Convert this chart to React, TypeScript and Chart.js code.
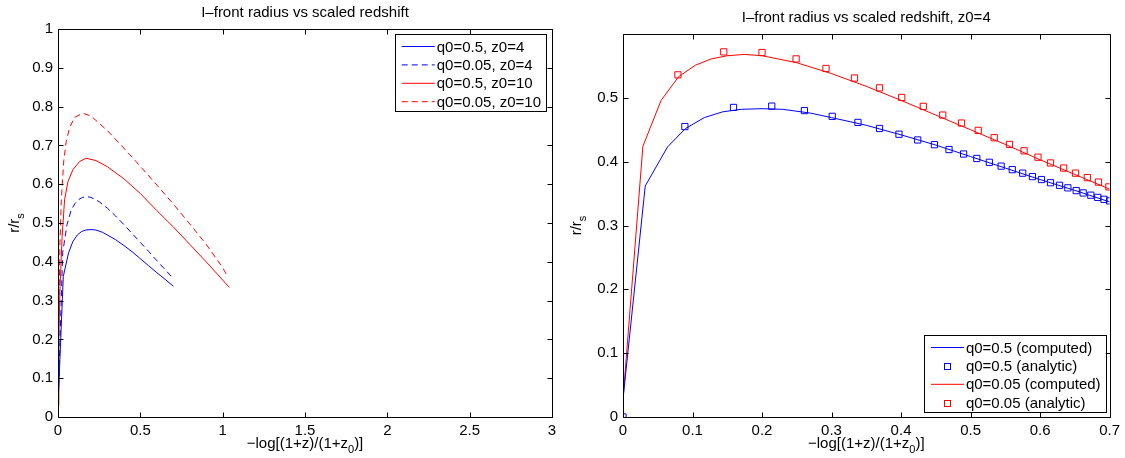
import React, { useEffect, useRef } from 'react';
import { Chart, registerables } from 'chart.js';

Chart.register(...registerables);

const FONT = '"Liberation Sans", Arial, Helvetica, sans-serif';
const FS = 15;

// ---- Right panel (z0 = 4) ----
const q05z4ComputedX = [0, 0.032, 0.064, 0.09, 0.117, 0.143, 0.17, 0.2, 0.23, 0.27, 0.3, 0.35, 0.4, 0.45, 0.5, 0.55, 0.6, 0.65, 0.7];
const q05z4ComputedY = [0.028, 0.362, 0.423, 0.452, 0.469, 0.478, 0.482, 0.483, 0.482, 0.476, 0.469, 0.457, 0.442, 0.426, 0.408, 0.39, 0.372, 0.355, 0.337];

const q005z4ComputedX = [0, 0.0286, 0.0548, 0.08, 0.104, 0.127, 0.15, 0.175, 0.2, 0.25, 0.3, 0.35, 0.4, 0.45, 0.5, 0.55, 0.6, 0.65, 0.7];
const q005z4ComputedY = [0.028, 0.424, 0.496, 0.533, 0.551, 0.561, 0.566, 0.568, 0.566, 0.555, 0.538, 0.518, 0.496, 0.473, 0.45, 0.427, 0.403, 0.38, 0.357];

const q05z4AnalyticX = [0, 0.089, 0.159, 0.214, 0.261, 0.301, 0.338, 0.369, 0.397, 0.424, 0.448, 0.469, 0.49, 0.509, 0.527, 0.544, 0.56, 0.575, 0.589, 0.602, 0.615, 0.628, 0.64, 0.652, 0.662, 0.673, 0.683, 0.692, 0.7];
const q05z4AnalyticY = [0, 0.455, 0.485, 0.487, 0.48, 0.471, 0.4615, 0.452, 0.443, 0.434, 0.4266, 0.419, 0.412, 0.405, 0.399, 0.393, 0.3875, 0.382, 0.3766, 0.372, 0.367, 0.363, 0.359, 0.3547, 0.351, 0.3475, 0.344, 0.341, 0.3386];

const q005z4AnalyticX = [0.079, 0.145, 0.2, 0.249, 0.292, 0.333, 0.369, 0.401, 0.432, 0.46, 0.487, 0.511, 0.534, 0.556, 0.577, 0.597, 0.615, 0.634, 0.651, 0.668, 0.684, 0.699];
const q005z4AnalyticY = [0.536, 0.572, 0.571, 0.561, 0.546, 0.531, 0.5156, 0.5006, 0.4866, 0.473, 0.4605, 0.449, 0.4375, 0.427, 0.417, 0.407, 0.398, 0.39, 0.382, 0.375, 0.368, 0.3605];

// ---- Left panel extra curves (z0 = 10) ----
const q05z10X = [0, 0.005, 0.012, 0.025, 0.04, 0.06, 0.09, 0.13, 0.17, 0.23, 0.3, 0.4, 0.5, 0.6, 0.7, 0.8, 0.9, 1.0, 1.04];
const q05z10Y = [0.03, 0.2, 0.33, 0.465, 0.56, 0.606, 0.637, 0.658, 0.667, 0.661, 0.645, 0.614, 0.576, 0.532, 0.49, 0.445, 0.4, 0.353, 0.334];

const q005z10X = [0, 0.005, 0.012, 0.02, 0.035, 0.05, 0.07, 0.1, 0.15, 0.2, 0.3, 0.4, 0.5, 0.6, 0.7, 0.8, 0.9, 1.0, 1.032];
const q005z10Y = [0.03, 0.25, 0.45, 0.56, 0.66, 0.71, 0.745, 0.772, 0.783, 0.776, 0.738, 0.693, 0.646, 0.598, 0.549, 0.498, 0.445, 0.385, 0.36];

// ---- Ticks & labels ----
const leftXTicks = [0, 0.5, 1, 1.5, 2, 2.5, 3];
const leftYTicks = [0, 0.1, 0.2, 0.3, 0.4, 0.5, 0.6, 0.7, 0.8, 0.9, 1];
const rightXTicks = [0, 0.1, 0.2, 0.3, 0.4, 0.5, 0.6, 0.7];
const rightYTicks = [0, 0.1, 0.2, 0.3, 0.4, 0.5];

const leftTitle = 'I–front radius vs scaled redshift';
const rightTitle = 'I–front radius vs scaled redshift, z0=4';
const leftLegend = ['q0=0.5, z0=4', 'q0=0.05, z0=4', 'q0=0.5, z0=10', 'q0=0.05, z0=10'];
const rightLegend = ['q0=0.5 (computed)', 'q0=0.5 (analytic)', 'q0=0.05 (computed)', 'q0=0.05 (analytic)'];

const xLabelParts = [
  { t: '−log[(1+z)/(1+z', sub: false },
  { t: '0', sub: true },
  { t: ')]', sub: false },
];
const yLabelParts = [
  { t: 'r/r', sub: false },
  { t: 's', sub: true },
];

const BLUE = '#0000ff';
const RED = '#ff0000';

const zip = (xs: number[], ys: number[]) => xs.map((x, i) => ({ x, y: ys[i] }));

function drawParts(ctx: CanvasRenderingContext2D, parts: { t: string; sub: boolean }[], cx: number, y: number) {
  const big = `${FS}px ${FONT}`;
  const small = `${FS - 4}px ${FONT}`;
  let total = 0;
  parts.forEach((p) => {
    ctx.font = p.sub ? small : big;
    total += ctx.measureText(p.t).width;
  });
  let x = cx - total / 2;
  ctx.textAlign = 'left';
  ctx.textBaseline = 'alphabetic';
  parts.forEach((p) => {
    ctx.font = p.sub ? small : big;
    ctx.fillText(p.t, x, p.sub ? y + 5 : y);
    x += ctx.measureText(p.t).width;
  });
}

const matlabPlugin = {
  id: 'matlab',
  afterDraw(chart: any, _args: any, opts: any) {
    const ctx: CanvasRenderingContext2D = chart.ctx;
    const a = chart.chartArea;
    const xs = chart.scales.x;
    const ys = chart.scales.y;
    ctx.save();
    ctx.strokeStyle = '#000';
    ctx.fillStyle = '#000';
    ctx.lineWidth = 1;
    const L = Math.round(a.left) + 0.5;
    const R = Math.round(a.right) + 0.5;
    const T = Math.round(a.top) + 0.5;
    const B = Math.round(a.bottom) + 0.5;
    ctx.beginPath();
    ctx.rect(L, T, R - L, B - T);
    const tl = 5;
    xs.ticks.forEach((t: any) => {
      const px = Math.round(xs.getPixelForValue(t.value)) + 0.5;
      ctx.moveTo(px, B);
      ctx.lineTo(px, B - tl);
      ctx.moveTo(px, T);
      ctx.lineTo(px, T + tl);
    });
    ys.ticks.forEach((t: any) => {
      const py = Math.round(ys.getPixelForValue(t.value)) + 0.5;
      ctx.moveTo(L, py);
      ctx.lineTo(L + tl, py);
      ctx.moveTo(R, py);
      ctx.lineTo(R - tl, py);
    });
    ctx.stroke();

    // title
    ctx.font = `${FS}px ${FONT}`;
    ctx.textAlign = 'center';
    ctx.textBaseline = 'alphabetic';
    ctx.fillText(opts.title, (a.left + a.right) / 2, a.top - 12);

    // x label
    drawParts(ctx, xLabelParts, (a.left + a.right) / 2, a.bottom + 31);

    // y label
    ctx.save();
    ctx.translate(opts.yLabelX, (a.top + a.bottom) / 2);
    ctx.rotate(-Math.PI / 2);
    drawParts(ctx, yLabelParts, 0, 0);
    ctx.restore();

    // legend
    const ds = chart.data.datasets;
    ctx.font = `${FS}px ${FONT}`;
    let tw = 0;
    ds.forEach((d: any) => { tw = Math.max(tw, ctx.measureText(d.label).width); });
    const boxW = 42 + tw + 5;
    const boxH = 77;
    const right = a.right - opts.legendRightGap;
    const left = right - boxW;
    const top = opts.legendCorner === 'tr' ? a.top + 5 : a.bottom - 5 - boxH;
    ctx.fillStyle = '#fff';
    ctx.fillRect(left, top, boxW, boxH);
    ctx.strokeStyle = '#000';
    ctx.lineWidth = 1;
    ctx.strokeRect(Math.round(left) + 0.5, Math.round(top) + 0.5, Math.round(boxW), boxH);
    ds.forEach((d: any, i: number) => {
      const cy = top + 12.5 + i * 18.4;
      ctx.strokeStyle = d.borderColor;
      ctx.lineWidth = 1;
      if (d.showLine) {
        ctx.setLineDash(d.borderDash || []);
        ctx.beginPath();
        ctx.moveTo(left + 7, cy);
        ctx.lineTo(left + 40, cy);
        ctx.stroke();
        ctx.setLineDash([]);
      } else {
        const s = 6;
        ctx.strokeRect(Math.round(left + 23.5 - s / 2) + 0.5, Math.round(cy - s / 2) + 0.5, s, s);
      }
      ctx.fillStyle = '#000';
      ctx.font = `${FS}px ${FONT}`;
      ctx.textAlign = 'left';
      ctx.textBaseline = 'middle';
      ctx.fillText(d.label, left + 42, cy + 1);
    });
    ctx.restore();
  },
};

function makeConfig(
  datasets: any[],
  xTicks: number[],
  yTicks: number[],
  xMax: number,
  yMax: number,
  padding: any,
  yWidth: number,
  opts: any,
) {
  const tickFont = { family: FONT, size: FS };
  return {
    type: 'scatter',
    data: { datasets },
    options: {
      animation: false,
      responsive: false,
      layout: { padding },
      plugins: {
        legend: { display: false },
        tooltip: { enabled: false },
        title: { display: false },
        matlab: opts,
      },
      scales: {
        x: {
          type: 'linear',
          min: 0,
          max: xMax,
          grid: { display: false, drawTicks: false },
          border: { display: false },
          ticks: { font: tickFont, color: '#000', padding: 5, maxRotation: 0, autoSkip: false, callback: (v: any) => String(v) },
          afterBuildTicks: (s: any) => { s.ticks = xTicks.map((v) => ({ value: v })); },
          afterFit: (s: any) => { s.height = 41; },
        },
        y: {
          type: 'linear',
          min: 0,
          max: yMax,
          grid: { display: false, drawTicks: false },
          border: { display: false },
          ticks: { font: tickFont, color: '#000', padding: 5, autoSkip: false, callback: (v: any) => String(v) },
          afterBuildTicks: (s: any) => { s.ticks = yTicks.map((v) => ({ value: v })); },
          afterFit: (s: any) => { s.width = yWidth; },
        },
      },
    },
    plugins: [matlabPlugin],
  } as any;
}

const lineDs = (label: string, xs: number[], ys: number[], color: string, dash: number[] = []) => ({
  label,
  data: zip(xs, ys),
  showLine: true,
  borderColor: color,
  backgroundColor: color,
  borderWidth: 1,
  borderDash: dash,
  pointRadius: 0,
  tension: 0,
});

const pointDs = (label: string, xs: number[], ys: number[], color: string) => ({
  label,
  data: zip(xs, ys),
  showLine: false,
  borderColor: color,
  backgroundColor: 'rgba(0,0,0,0)',
  borderWidth: 1,
  pointStyle: 'rect',
  pointRadius: 4.4,
});

export default function App() {
  const leftRef = useRef<HTMLCanvasElement>(null);
  const rightRef = useRef<HTMLCanvasElement>(null);

  useEffect(() => {
    const left = new Chart(
      leftRef.current as HTMLCanvasElement,
      makeConfig(
        [
          lineDs(leftLegend[0], q05z4ComputedX, q05z4ComputedY, BLUE),
          lineDs(leftLegend[1], q005z4ComputedX, q005z4ComputedY, BLUE, [6, 4]),
          lineDs(leftLegend[2], q05z10X, q05z10Y, RED),
          lineDs(leftLegend[3], q005z10X, q005z10Y, RED, [6, 4]),
        ],
        leftXTicks,
        leftYTicks,
        3,
        1,
        { left: 0, right: 10, top: 29, bottom: 0 },
        58,
        { title: leftTitle, yLabelX: 19, legendCorner: 'tr', legendRightGap: 6 },
      ),
    );
    const right = new Chart(
      rightRef.current as HTMLCanvasElement,
      makeConfig(
        [
          lineDs(rightLegend[0], q05z4ComputedX, q05z4ComputedY, BLUE),
          pointDs(rightLegend[1], q05z4AnalyticX, q05z4AnalyticY, BLUE),
          lineDs(rightLegend[2], q005z4ComputedX, q005z4ComputedY, RED),
          pointDs(rightLegend[3], q005z4AnalyticX, q005z4AnalyticY, RED),
        ],
        rightXTicks,
        rightYTicks,
        0.7,
        0.6,
        { left: 0, right: 15, top: 34, bottom: 0 },
        61,
        { title: rightTitle, yLabelX: 19, legendCorner: 'br', legendRightGap: 4 },
      ),
    );
    return () => {
      left.destroy();
      right.destroy();
    };
  }, []);

  return (
    <div style={{ position: 'absolute', left: 0, top: 0, width: 1125, height: 458, background: '#fff' }}>
      <canvas ref={leftRef} width={562} height={458} style={{ position: 'absolute', left: 0, top: 0, width: 562, height: 458 }} />
      <canvas ref={rightRef} width={563} height={458} style={{ position: 'absolute', left: 562, top: 0, width: 563, height: 458 }} />
    </div>
  );
}
